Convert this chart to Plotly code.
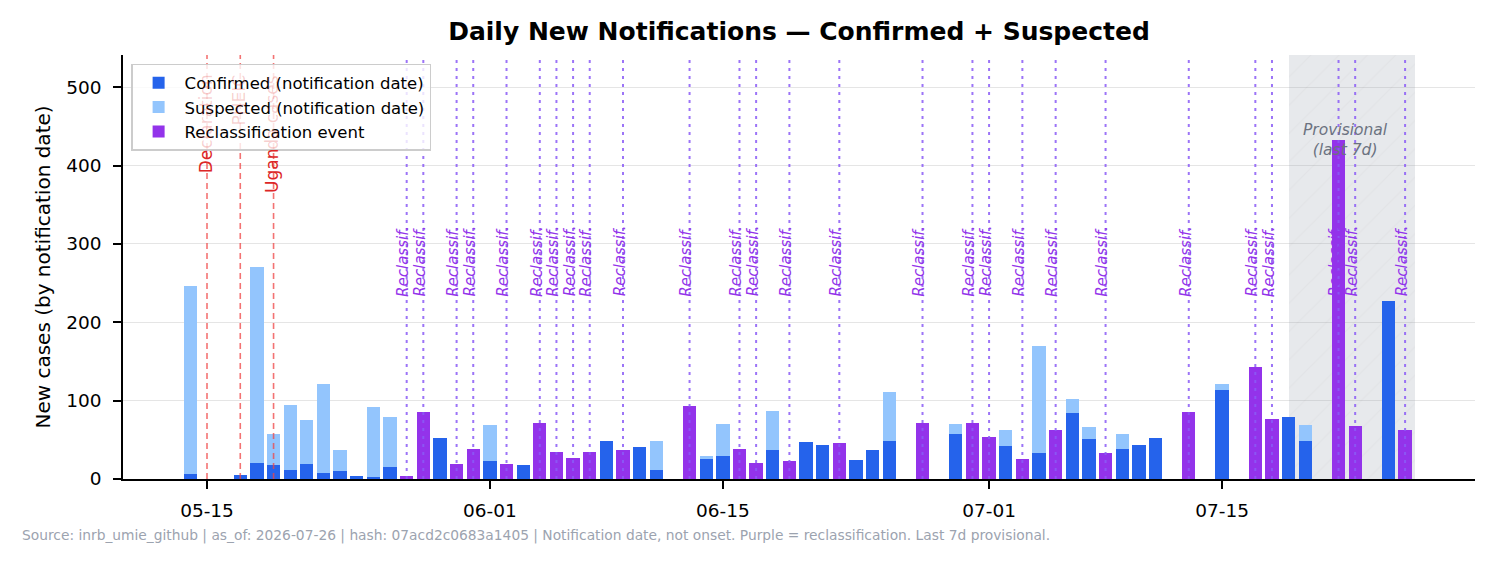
import plotly.graph_objects as go
from datetime import datetime, timedelta

# ---------------- data ----------------
dates = ["2026-05-14", "2026-05-17", "2026-05-18", "2026-05-19", "2026-05-20", "2026-05-21",
         "2026-05-22", "2026-05-23", "2026-05-24", "2026-05-25", "2026-05-26", "2026-05-27",
         "2026-05-28", "2026-05-29", "2026-05-30", "2026-05-31", "2026-06-01", "2026-06-02",
         "2026-06-03", "2026-06-04", "2026-06-05", "2026-06-06", "2026-06-07", "2026-06-08",
         "2026-06-09", "2026-06-10", "2026-06-11", "2026-06-13", "2026-06-14", "2026-06-15",
         "2026-06-16", "2026-06-17", "2026-06-18", "2026-06-19", "2026-06-20", "2026-06-21",
         "2026-06-22", "2026-06-23", "2026-06-24", "2026-06-25", "2026-06-27", "2026-06-29",
         "2026-06-30", "2026-07-01", "2026-07-02", "2026-07-03", "2026-07-04", "2026-07-05",
         "2026-07-06", "2026-07-07", "2026-07-08", "2026-07-09", "2026-07-10", "2026-07-11",
         "2026-07-13", "2026-07-15", "2026-07-17", "2026-07-18", "2026-07-19", "2026-07-20",
         "2026-07-22", "2026-07-23", "2026-07-25", "2026-07-26"]
confirmed = [7, 5, 20, 18, 12, 19,
             8, 10, 4, 2, 15, 4,
             85, 52, 19, 38, 23, 19,
             18, 71, 35, 27, 34, 48,
             37, 41, 12, 93, 25, 29,
             38, 20, 37, 23, 47, 44,
             46, 24, 37, 48, 71, 58,
             72, 53, 42, 25, 33, 62,
             84, 51, 33, 38, 43, 52,
             85, 113, 143, 76, 79, 49,
             432, 67, 227, 62]
suspected = [239, 0, 250, 40, 83, 56,
             113, 27, 0, 90, 64, 0,
             0, 0, 0, 0, 46, 0,
             0, 0, 0, 0, 0, 0,
             0, 0, 36, 0, 4, 41,
             0, 0, 50, 0, 0, 0,
             0, 0, 0, 63, 0, 12,
             0, 0, 20, 0, 137, 0,
             18, 15, 0, 19, 0, 0,
             0, 8, 0, 0, 0, 20,
             0, 0, 0, 0]
reclass_dates = ["2026-05-27", "2026-05-28", "2026-05-30", "2026-05-31", "2026-06-02",
                 "2026-06-04", "2026-06-05", "2026-06-06", "2026-06-07", "2026-06-09",
                 "2026-06-13", "2026-06-16", "2026-06-17", "2026-06-19", "2026-06-22",
                 "2026-06-27", "2026-06-30", "2026-07-01", "2026-07-03", "2026-07-05",
                 "2026-07-08", "2026-07-13", "2026-07-17", "2026-07-18", "2026-07-22",
                 "2026-07-23", "2026-07-26"]
event_dates = ["2026-05-15", "2026-05-17", "2026-05-19"]
event_labels = ["Declaration", "PHEIC", "Uganda cases"]
tick_dates = ["2026-05-15", "2026-06-01", "2026-06-15", "2026-07-01", "2026-07-15"]
as_of = "2026-07-26"

FONT = "DejaVu Sans"
C_CONF = "#2563eb"
C_SUSP = "#93c5fd"
C_RECL = "#9333ea"
DAY_MS = 86400000
YMAX = 541

# split normal / reclass days
rset = set(reclass_dates)
nd, nc, ns, rd, rt = [], [], [], [], []
for d, c, s in zip(dates, confirmed, suspected):
    if d in rset:
        rd.append(d); rt.append(c + s)
    else:
        nd.append(d); nc.append(c); ns.append(s)

fig = go.Figure()

# provisional shaded window (last 7d)
asof_dt = datetime.strptime(as_of, "%Y-%m-%d")
p0 = asof_dt - timedelta(days=7)
p1 = asof_dt + timedelta(hours=14.4)
pmid = p0 + (p1 - p0) / 2
fig.add_trace(go.Bar(
    x=[pmid], y=[YMAX], base=[0], width=[(p1 - p0).total_seconds() * 1000],
    marker=dict(color="#9ca3af", line=dict(width=0),
                pattern=dict(shape="/", bgcolor="#9ca3af", fgcolor="#6b7280",
                             size=20, solidity=0.06)),
    opacity=0.24, showlegend=False, hoverinfo="skip"))

fig.add_trace(go.Bar(x=nd, y=nc, width=0.8 * DAY_MS, marker=dict(color=C_CONF, line=dict(width=0)),
                     name="Confirmed (notification date)"))
fig.add_trace(go.Bar(x=nd, y=ns, base=nc, width=0.8 * DAY_MS, marker=dict(color=C_SUSP, line=dict(width=0)),
                     name="Suspected (notification date)"))
fig.add_trace(go.Bar(x=rd, y=rt, width=0.8 * DAY_MS, marker=dict(color=C_RECL, line=dict(width=0)),
                     name="Reclassification event"))

shapes = []
annotations = []
for d in reclass_dates:
    shapes.append(dict(type="line", xref="x", yref="paper", x0=d, x1=d, y0=0, y1=1,
                       line=dict(color="rgba(139,92,246,0.85)", width=2, dash="3px,5px"),
                       layer="above"))
    annotations.append(dict(x=d, y=230, xref="x", yref="y", text="Reclassif.",
                            textangle=-90, showarrow=False, xanchor="center", yanchor="bottom",
                            xshift=-3, font=dict(family=FONT, size=15, color=C_RECL, style="italic")))

# event labels: the part lying behind the (semi-transparent) legend is drawn faint
EV_SIZE = 17
# approx DejaVu Sans advance widths (em)
_w = {"c": .55, "l": .278, "a": .613, "r": .411, "t": .392, "i": .278, "o": .612, "n": .634,
      "d": .635, "s": .521, "e": .615, " ": .318}
event_split = [("De", "claration"), ("", "PHEIC"), ("Ugan", "da cases")]
for d, lab, (vis, faint) in zip(event_dates, event_labels, event_split):
    shapes.append(dict(type="line", xref="x", yref="paper", x0=d, x1=d, y0=0, y1=1,
                       line=dict(color="rgba(239,68,68,0.75)", width=1.6, dash="6px,4px"),
                       layer="above"))
    annotations.append(dict(x=d, y=0.958, xref="x", yref="paper", text=faint,
                            textangle=-90, showarrow=False, xanchor="center", yanchor="top",
                            xshift=-1, font=dict(family=FONT, size=EV_SIZE, color="rgba(220,38,38,0.22)")))
    if vis:
        off = sum(_w.get(ch, .6) for ch in faint) * EV_SIZE
        annotations.append(dict(x=d, y=0.958, xref="x", yref="paper", text=vis,
                                textangle=-90, showarrow=False, xanchor="center", yanchor="top",
                                xshift=-1, yshift=-off,
                                font=dict(family=FONT, size=EV_SIZE, color="#dc2626")))

annotations.append(dict(x=pmid - timedelta(hours=9), y=0.85, xref="x", yref="paper",
                        text="Provisional<br>(last 7d)", showarrow=False,
                        xanchor="center", yanchor="top",
                        font=dict(family=FONT, size=15.5, color="#6b7280", style="italic")))
annotations.append(dict(x=-0.0762, y=-0.134, xref="paper", yref="paper", xanchor="left", yanchor="middle",
                        showarrow=False,
                        text="Source: inrb_umie_github | as_of: 2026-07-26 | hash: 07acd2c0683a1405 | "
                             "Notification date, not onset. Purple = reclassification. Last 7d provisional.",
                        font=dict(family=FONT, size=13.8, color="#9ca3af")))

fig.update_layout(
    width=1495, height=563,
    margin=dict(l=123, r=20, t=55, b=84),
    paper_bgcolor="white", plot_bgcolor="white",
    barmode="overlay", bargap=0,
    font=dict(family=FONT, size=18, color="black"),
    title=dict(text="<b>Daily New Notifications — Confirmed + Suspected</b>",
               x=0.5, xref="paper", xanchor="center", y=1 - 31 / 563, yref="container", yanchor="middle",
               font=dict(family=FONT, size=25, color="black")),
    legend=dict(x=0.006, y=0.979, xanchor="left", yanchor="top",
                bgcolor="rgba(255,255,255,0.8)", bordercolor="#cccccc", borderwidth=1.5,
                font=dict(family=FONT, size=16.5, color="black"), traceorder="normal",
                itemwidth=42),
    shapes=shapes, annotations=annotations,
    showlegend=True,
)
fig.update_xaxes(type="date", range=["2026-05-09 22:51", "2026-07-30 04:50"],
                 tickvals=tick_dates, tickformat="%m-%d",
                 showline=True, linecolor="black", linewidth=1.6, mirror=False,
                 ticks="outside", ticklen=8, tickwidth=1.6, tickcolor="black",
                 showgrid=False, zeroline=False, ticklabelstandoff=6,
                 tickfont=dict(family=FONT, size=18.5, color="black"))
fig.update_yaxes(range=[0, YMAX], tickvals=[0, 100, 200, 300, 400, 500],
                 showline=True, linecolor="black", linewidth=1.6,
                 ticks="outside", ticklen=8, tickwidth=1.6, tickcolor="black",
                 showgrid=True, gridcolor="#e5e5e5", gridwidth=1.2, zeroline=False,
                 ticklabelstandoff=8,
                 tickfont=dict(family=FONT, size=18.5, color="black"),
                 title=dict(text="New cases (by notification date)", standoff=10,
                            font=dict(family=FONT, size=20, color="black")))

fig.write_html("out.html")
